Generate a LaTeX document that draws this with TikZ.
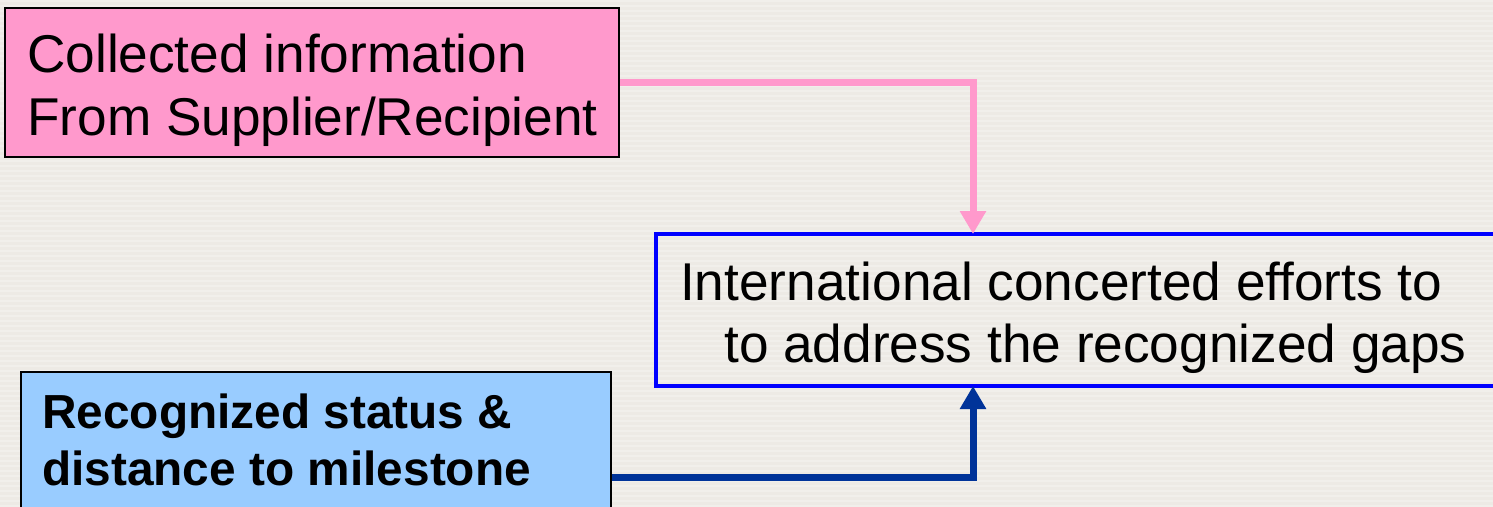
\documentclass[tikz,border=0pt]{standalone}
\usepackage{fontspec}
\setmainfont{Liberation Sans}
\usetikzlibrary{arrows.meta}

\definecolor{paper}{HTML}{EDEAE5}
\definecolor{paperlight}{HTML}{F1EFEB}
\definecolor{pinkfill}{HTML}{FF99CC}
\definecolor{skyfill}{HTML}{99CCFF}
\definecolor{purebl}{HTML}{0000FF}
\definecolor{navy}{HTML}{003399}

\tikzset{
  sourcebox/.style={draw=black, line width=1.5pt, rectangle, inner sep=0pt},
  targetbox/.style={draw=purebl, line width=4pt, rectangle, inner sep=0pt},
  bigtext/.style={anchor=base west, inner sep=0pt, font=\fontsize{53.2}{63}\selectfont},
  boldtext/.style={anchor=base west, inner sep=0pt, font=\fontsize{47.8}{57}\selectfont\bfseries},
  flow/.style={line width=7pt, -{Triangle[length=23pt,width=25pt]}},
}

\begin{document}
\begin{tikzpicture}[x=1pt, y=-1pt]
  \useasboundingbox (0,0) rectangle (1493,506);
  \clip (0,0) rectangle (1493,506);

  % striped paper background
  \fill[paper] (0,0) rectangle (1493,506);
  \foreach \s in {0,5,...,505} {
    \fill[paperlight] (0,\s) rectangle (1493,\s+2);
  }

  % boxes
  \node[sourcebox, fill=pinkfill, minimum width=614pt, minimum height=149pt] (info) at (312,82.5) {};
  \node[targetbox, minimum width=864pt, minimum height=152pt] (effort) at (1088,310) {};
  \node[sourcebox, fill=skyfill, minimum width=590pt, minimum height=158pt] (status) at (316,451) {};

  % box texts
  \node[bigtext] (info1) at (27,72) {Collected information};
  \node[bigtext] (info2) at (27,135) {From Supplier/Recipient};
  \node[bigtext] (eff1) at (680,300) {International concerted efforts to};
  \node[bigtext] (eff2) at (724,362) {to address the recognized gaps};
  \node[boldtext] (st1) at (42,428) {Recognized status \&};
  \node[boldtext] (st2) at (42,485) {distance to milestone};

  % connectors
  \coordinate (intop) at (973,234);
  \coordinate (inbot) at (973,386);
  \draw[flow, pinkfill] (info.east) -| (intop);
  \draw[flow, navy] ([yshift=-26pt]status.east) -| (inbot);
\end{tikzpicture}
\end{document}
